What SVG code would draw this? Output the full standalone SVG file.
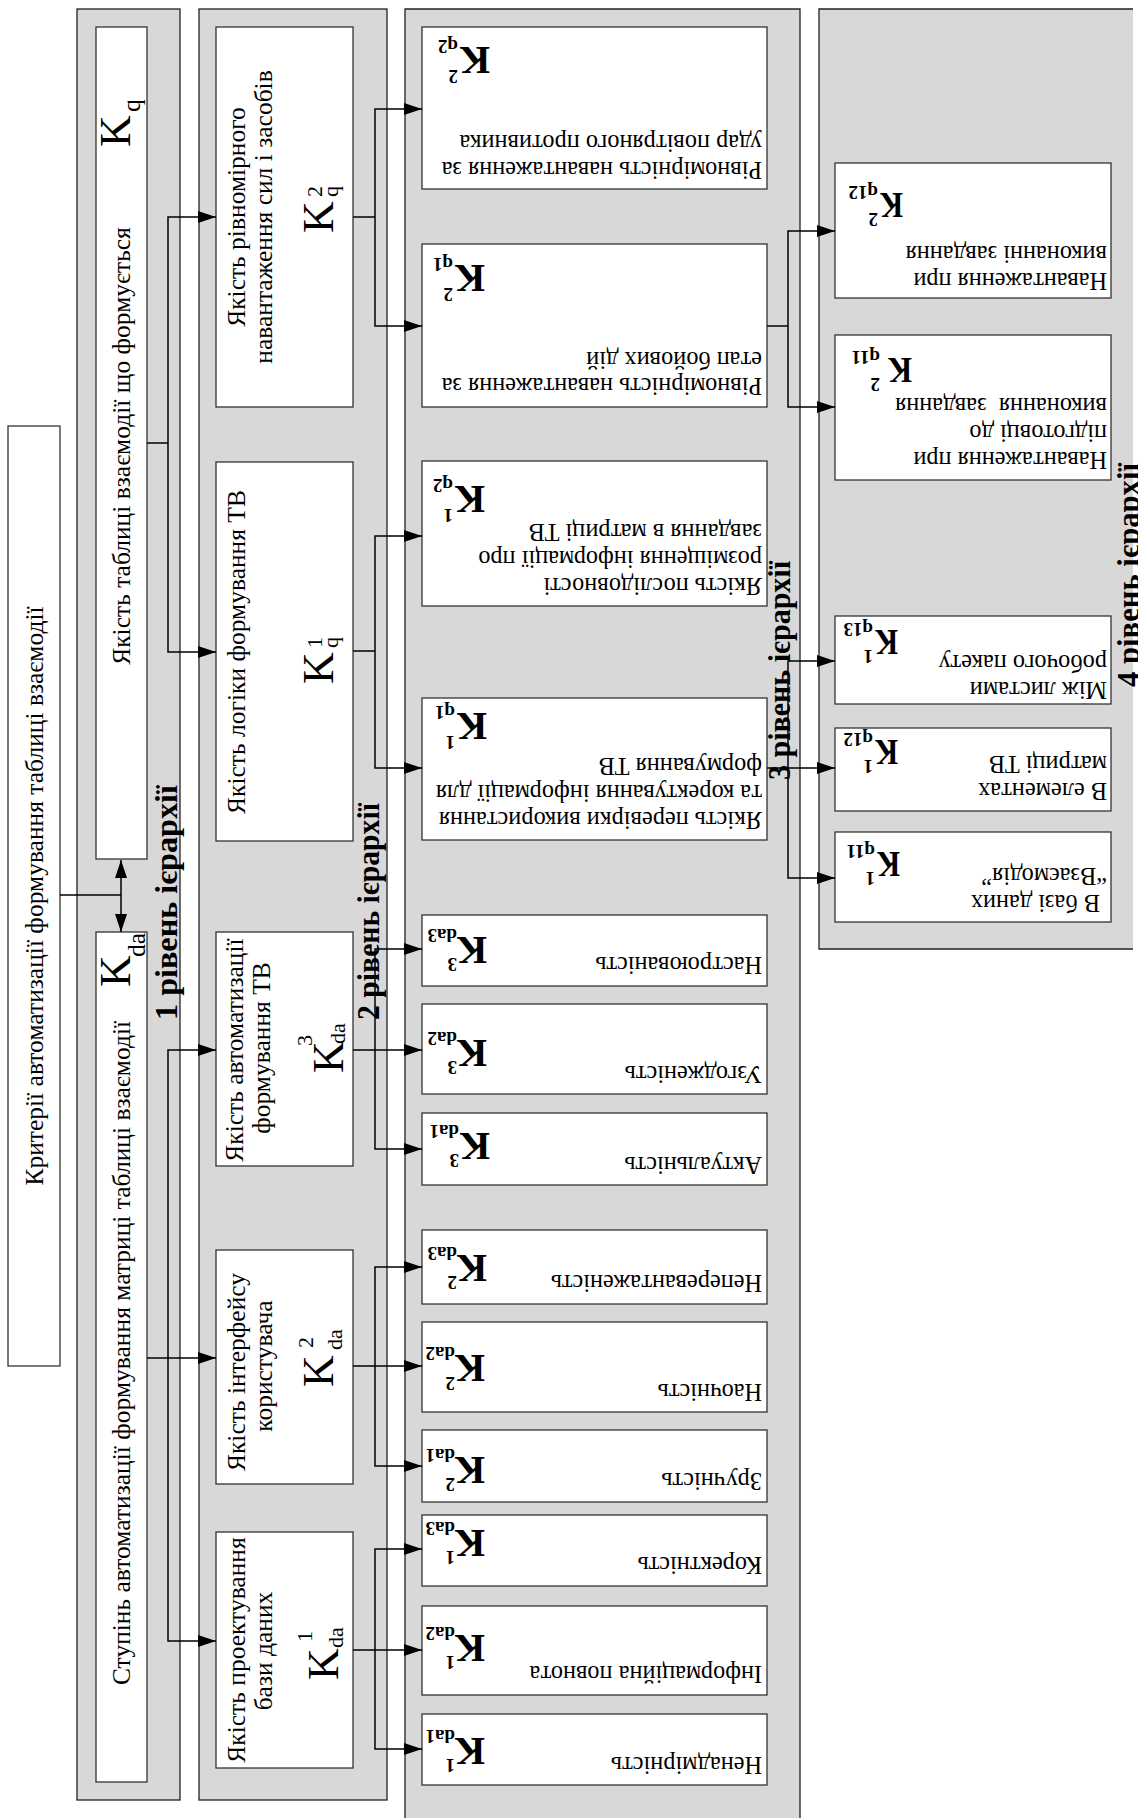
<svg xmlns="http://www.w3.org/2000/svg" width="1138" height="1818" viewBox="0 0 1138 1818">
<defs>
<style>
.panel{fill:#d8d8d8;stroke:#222;stroke-width:1.3}
.pfill{fill:#d8d8d8;stroke:none}
.pline{fill:none;stroke:#222;stroke-width:1.3}
.box{fill:#fff;stroke:#333;stroke-width:1.3}
.conn{fill:none;stroke:#000;stroke-width:1.5}
.t{font-family:"Liberation Serif","Times New Roman",serif;font-size:25.5px;fill:#000}
.u{font-size:24.3px}
.kr{font-size:44px}
.sr{font-size:22px}
.kb{font-weight:bold;font-size:39px}
.sb{font-weight:bold;font-size:19px}
.kn{font-weight:bold;font-size:36px}
.lv{font-weight:bold;font-size:32px}
</style>
<marker id="ah" markerUnits="userSpaceOnUse" markerWidth="18" markerHeight="12" refX="18" refY="6" orient="auto">
<path d="M0,0 L18,6 L0,12 z" fill="#000"/>
</marker>
</defs>
<rect width="1138" height="1818" fill="#fff"/>

<!-- panels -->
<g id="panels">
<rect class="panel" x="77" y="9" width="103" height="1791"/>
<rect class="panel" x="199" y="9" width="188" height="1791"/>
<rect class="pfill" x="405" y="9" width="395" height="1820"/>
<path class="pline" d="M405,1830 V9 H800 V1830"/>
<rect class="pfill" x="819" y="9" width="314" height="940"/>
<path class="pline" d="M1133,9 H819 V949 H1133"/>
</g>

<!-- root -->
<g id="root">
<rect class="box" x="8" y="426" width="52" height="940"/>
<text class="t" transform="translate(43,896) rotate(-90)" text-anchor="middle">Критерії автоматизації формування таблиці взаємодії</text>
</g>

<!-- level 1 -->
<g id="node-kq">
<rect class="box" x="96" y="27" width="51" height="832"/>
<text class="t" transform="translate(130,446) rotate(-90)" text-anchor="middle">Якість таблиці взаємодії що формується</text>
<g transform="translate(130,147) rotate(-90)"><text class="t kr">K</text><text class="t" x="35" y="10" font-size="27">q</text></g>
</g>
<g id="node-kda">
<rect class="box" x="96" y="932" width="51" height="850"/>
<text class="t" transform="translate(130,1353) rotate(-90)" text-anchor="middle">Ступінь автоматизації формування матриці таблиці взаємодії</text>
<g transform="translate(130,987) rotate(-90)"><text class="t kr">K</text><text class="t" x="30" y="15" font-size="26">da</text></g>
</g>

<!-- level 2 -->
<g id="node-kq2">
<rect class="box" x="216" y="27" width="137" height="380"/>
<text class="t" transform="translate(245,217) rotate(-90)" text-anchor="middle">Якість рівномірного</text>
<text class="t" transform="translate(272,217) rotate(-90)" text-anchor="middle">навантаження сил і засобів</text>
<g transform="translate(333,233) rotate(-90)"><text class="t kr">K</text><text class="t sr" x="36" y="-11">2</text><text class="t sr" x="36" y="5">q</text></g>
</g>
<g id="node-kq1">
<rect class="box" x="216" y="462" width="137" height="379"/>
<text class="t" transform="translate(245,652) rotate(-90)" text-anchor="middle">Якість логіки формування ТВ</text>
<g transform="translate(333,684) rotate(-90)"><text class="t kr">K</text><text class="t sr" x="36" y="-11">1</text><text class="t sr" x="36" y="5">q</text></g>
</g>
<g id="node-kda3">
<rect class="box" x="216" y="932" width="137" height="234"/>
<text class="t" transform="translate(243,1050) rotate(-90)" text-anchor="middle">Якість автоматизації</text>
<text class="t" transform="translate(270,1048) rotate(-90)" text-anchor="middle">формування ТВ</text>
<g transform="translate(343,1073) rotate(-90)"><text class="t kr">K</text><text class="t sr" x="27" y="-31">3</text><text class="t sr" x="29" y="2">da</text></g>
</g>
<g id="node-kda2">
<rect class="box" x="216" y="1250" width="137" height="234"/>
<text class="t" transform="translate(245,1372) rotate(-90)" text-anchor="middle">Якість інтерфейсу</text>
<text class="t" transform="translate(272,1366) rotate(-90)" text-anchor="middle">користувача</text>
<g transform="translate(333,1387) rotate(-90)"><text class="t kr">K</text><text class="t sr" x="39" y="-20">2</text><text class="t sr" x="37" y="9">da</text></g>
</g>
<g id="node-kda1">
<rect class="box" x="216" y="1532" width="137" height="236"/>
<text class="t" transform="translate(245,1650) rotate(-90)" text-anchor="middle">Якість проектування</text>
<text class="t" transform="translate(272,1651) rotate(-90)" text-anchor="middle">бази даних</text>
<g transform="translate(338,1680) rotate(-90)"><text class="t kr">K</text><text class="t sr" x="38" y="-26">1</text><text class="t sr" x="32" y="5">da</text></g>
</g>

<!-- level 3 -->
<g id="node-k2q2">
<rect class="box" x="422" y="27" width="345" height="162"/>
<text class="t u" transform="translate(762,162) rotate(180)">Рівномірність навантаження за</text>
<text class="t u" transform="translate(762,135) rotate(180)">удар повітряного противника</text>
<g transform="translate(490,47) rotate(180)"><text class="t kb">K</text><text class="t sb" x="32" y="-23">2</text><text class="t sb" x="32" y="7">q2</text></g>
</g>
<g id="node-k2q1">
<rect class="box" x="422" y="244" width="345" height="163"/>
<text class="t u" transform="translate(762,378) rotate(180)">Рівномірність навантаження за</text>
<text class="t u" transform="translate(762,352) rotate(180)">етап бойових дій</text>
<g transform="translate(485,265) rotate(180)"><text class="t kb">K</text><text class="t sb" x="32" y="-23">2</text><text class="t sb" x="32" y="7">q1</text></g>
</g>
<g id="node-k1q2">
<rect class="box" x="422" y="461" width="345" height="145"/>
<text class="t u" transform="translate(762,578) rotate(180)">Якість послідовності</text>
<text class="t u" transform="translate(762,551) rotate(180)">розміщення інформації про</text>
<text class="t u" transform="translate(762,524) rotate(180)">завдання в матриці ТВ</text>
<g transform="translate(485,486) rotate(180)"><text class="t kb">K</text><text class="t sb" x="32" y="-23">1</text><text class="t sb" x="32" y="7">q2</text></g>
</g>
<g id="node-k1q1">
<rect class="box" x="422" y="698" width="345" height="142"/>
<text class="t u" transform="translate(762,812) rotate(180)">Якість перевірки використання</text>
<text class="t u" transform="translate(762,785) rotate(180)">та коректування інформації для</text>
<text class="t u" transform="translate(762,758) rotate(180)">формування ТВ</text>
<g transform="translate(487,713) rotate(180)"><text class="t kb">K</text><text class="t sb" x="32" y="-23">1</text><text class="t sb" x="32" y="7">q1</text></g>
</g>
<g id="node-k3da3">
<rect class="box" x="422" y="915" width="345" height="71"/>
<text class="t u" transform="translate(762,957) rotate(180)">Настроюваність</text>
<g transform="translate(487,937) rotate(180)"><text class="t kb">K</text><text class="t sb" x="30" y="-21">3</text><text class="t sb" x="30" y="8">da3</text></g>
</g>
<g id="node-k3da2">
<rect class="box" x="422" y="1004" width="345" height="90"/>
<text class="t u" transform="translate(762,1066) rotate(180)">Узгодженість</text>
<g transform="translate(487,1040) rotate(180)"><text class="t kb">K</text><text class="t sb" x="30" y="-21">3</text><text class="t sb" x="30" y="8">da2</text></g>
</g>
<g id="node-k3da1">
<rect class="box" x="422" y="1113" width="345" height="72"/>
<text class="t u" transform="translate(762,1157) rotate(180)">Актуальність</text>
<g transform="translate(490,1133) rotate(180)"><text class="t kb">K</text><text class="t sb" x="31" y="-21">3</text><text class="t sb" x="31" y="8">da1</text></g>
</g>
<g id="node-k2da3">
<rect class="box" x="422" y="1230" width="345" height="74"/>
<text class="t u" transform="translate(762,1275) rotate(180)">Неперевантаженість</text>
<g transform="translate(487,1255) rotate(180)"><text class="t kb">K</text><text class="t sb" x="30" y="-21">2</text><text class="t sb" x="30" y="8">da3</text></g>
</g>
<g id="node-k2da2">
<rect class="box" x="422" y="1322" width="345" height="90"/>
<text class="t u" transform="translate(762,1384) rotate(180)">Наочність</text>
<g transform="translate(485,1355) rotate(180)"><text class="t kb">K</text><text class="t sb" x="30" y="-22">2</text><text class="t sb" x="30" y="8">da2</text></g>
</g>
<g id="node-k2da1">
<rect class="box" x="422" y="1430" width="345" height="72"/>
<text class="t u" transform="translate(762,1473) rotate(180)">Зручність</text>
<g transform="translate(485,1457) rotate(180)"><text class="t kb">K</text><text class="t sb" x="30" y="-21">2</text><text class="t sb" x="30" y="8">da1</text></g>
</g>
<g id="node-k1da3">
<rect class="box" x="422" y="1515" width="345" height="71"/>
<text class="t u" transform="translate(762,1557) rotate(180)">Коректність</text>
<g transform="translate(485,1530) rotate(180)"><text class="t kb">K</text><text class="t sb" x="30" y="-21">1</text><text class="t sb" x="30" y="8">da3</text></g>
</g>
<g id="node-k1da2">
<rect class="box" x="422" y="1606" width="345" height="89"/>
<text class="t u" transform="translate(762,1666) rotate(180)">Інформаційна повнота</text>
<g transform="translate(485,1635) rotate(180)"><text class="t kb">K</text><text class="t sb" x="30" y="-21">1</text><text class="t sb" x="30" y="8">da2</text></g>
</g>
<g id="node-k1da1">
<rect class="box" x="422" y="1714" width="345" height="71"/>
<text class="t u" transform="translate(762,1757) rotate(180)">Ненадмірність</text>
<g transform="translate(485,1738) rotate(180)"><text class="t kb">K</text><text class="t sb" x="30" y="-21">1</text><text class="t sb" x="30" y="8">da1</text></g>
</g>

<!-- level 4 -->
<g id="node-k2q12">
<rect class="box" x="835" y="163" width="276" height="135"/>
<text class="t u" transform="translate(1107,273) rotate(180)">Навантаження при</text>
<text class="t u" transform="translate(1107,246) rotate(180)">виконанні завдання</text>
<g transform="translate(903,193) rotate(180)"><text class="t kn" textLength="23" lengthAdjust="spacingAndGlyphs">K</text><text class="t sb" x="25" y="-20">2</text><text class="t sb" x="25" y="7">q12</text></g>
</g>
<g id="node-k2q11">
<rect class="box" x="835" y="335" width="276" height="145"/>
<text class="t u" transform="translate(1107,452) rotate(180)">Навантаження при</text>
<text class="t u" transform="translate(1107,425) rotate(180)">підготовці до</text>
<text class="t u" transform="translate(1107,398) rotate(180)" xml:space="preserve">виконання  завдання</text>
<g transform="translate(912,358) rotate(180)"><text class="t kn" textLength="24" lengthAdjust="spacingAndGlyphs">K</text><text class="t sb" x="32" y="-20">2</text><text class="t sb" x="32" y="7">q11</text></g>
</g>
<g id="node-k1q13">
<rect class="box" x="835" y="616" width="276" height="88"/>
<text class="t u" transform="translate(1107,682) rotate(180)">Між листами</text>
<text class="t u" transform="translate(1107,655) rotate(180)">робочого пакету</text>
<g transform="translate(898,630) rotate(180)"><text class="t kn" textLength="23" lengthAdjust="spacingAndGlyphs">K</text><text class="t sb" x="25" y="-20">1</text><text class="t sb" x="25" y="7">q13</text></g>
</g>
<g id="node-k1q12">
<rect class="box" x="835" y="728" width="276" height="83"/>
<text class="t u" transform="translate(1107,783) rotate(180)">В елементах</text>
<text class="t u" transform="translate(1107,756) rotate(180)">матриці ТВ</text>
<g transform="translate(898,740) rotate(180)"><text class="t kn" textLength="23" lengthAdjust="spacingAndGlyphs">K</text><text class="t sb" x="25" y="-20">1</text><text class="t sb" x="25" y="7">q12</text></g>
</g>
<g id="node-k1q11">
<rect class="box" x="835" y="832" width="276" height="90"/>
<text class="t u" transform="translate(1100,895) rotate(180)">В базі даних</text>
<text class="t u" transform="translate(1107,868) rotate(180)">“Взаємодія”</text>
<g transform="translate(900,852) rotate(180)"><text class="t kn" textLength="23" lengthAdjust="spacingAndGlyphs">K</text><text class="t sb" x="25" y="-20">1</text><text class="t sb" x="25" y="7">q11</text></g>
</g>

<!-- connectors -->
<g id="connectors">
<path class="conn" d="M60,895 H121"/>
<path class="conn" d="M121,895 V860" marker-end="url(#ah)"/>
<path class="conn" d="M121,895 V932" marker-end="url(#ah)"/>
<path class="conn" d="M147,443 H168"/>
<path class="conn" d="M168,443 V217 H216" marker-end="url(#ah)"/>
<path class="conn" d="M168,443 V652 H216" marker-end="url(#ah)"/>
<path class="conn" d="M147,1358 H216" marker-end="url(#ah)"/>
<path class="conn" d="M168,1358 V1050 H216" marker-end="url(#ah)"/>
<path class="conn" d="M168,1358 V1641 H216" marker-end="url(#ah)"/>
<path class="conn" d="M353,217 H375"/>
<path class="conn" d="M375,217 V109 H422" marker-end="url(#ah)"/>
<path class="conn" d="M375,217 V326 H422" marker-end="url(#ah)"/>
<path class="conn" d="M353,651 H375"/>
<path class="conn" d="M375,651 V536 H422" marker-end="url(#ah)"/>
<path class="conn" d="M375,651 V768 H422" marker-end="url(#ah)"/>
<path class="conn" d="M353,1050 H422" marker-end="url(#ah)"/>
<path class="conn" d="M375,1050 V949 H422" marker-end="url(#ah)"/>
<path class="conn" d="M375,1050 V1149 H422" marker-end="url(#ah)"/>
<path class="conn" d="M353,1366 H422" marker-end="url(#ah)"/>
<path class="conn" d="M375,1366 V1267 H422" marker-end="url(#ah)"/>
<path class="conn" d="M375,1366 V1466 H422" marker-end="url(#ah)"/>
<path class="conn" d="M353,1650 H422" marker-end="url(#ah)"/>
<path class="conn" d="M375,1650 V1549 H422" marker-end="url(#ah)"/>
<path class="conn" d="M375,1650 V1749 H422" marker-end="url(#ah)"/>
<path class="conn" d="M767,326 H788"/>
<path class="conn" d="M788,326 V231 H835" marker-end="url(#ah)"/>
<path class="conn" d="M788,326 V407 H835" marker-end="url(#ah)"/>
<path class="conn" d="M767,768 H835" marker-end="url(#ah)"/>
<path class="conn" d="M788,768 V661 H835" marker-end="url(#ah)"/>
<path class="conn" d="M788,768 V878 H835" marker-end="url(#ah)"/>
</g>

<!-- level labels -->
<g id="levels">
<text class="t lv" transform="translate(177,1020) rotate(-90)" textLength="235" lengthAdjust="spacingAndGlyphs">1 рівень ієрархії</text>
<text class="t lv" transform="translate(379,1020) rotate(-90)" textLength="217" lengthAdjust="spacingAndGlyphs">2 рівень ієрархії</text>
<text class="t lv" transform="translate(790,780) rotate(-90)" textLength="219" lengthAdjust="spacingAndGlyphs">3 рівень ієрархії</text>
<text class="t lv" transform="translate(1139,687) rotate(-90)" textLength="224" lengthAdjust="spacingAndGlyphs">4 рівень ієрархії</text>
</g>
</svg>
